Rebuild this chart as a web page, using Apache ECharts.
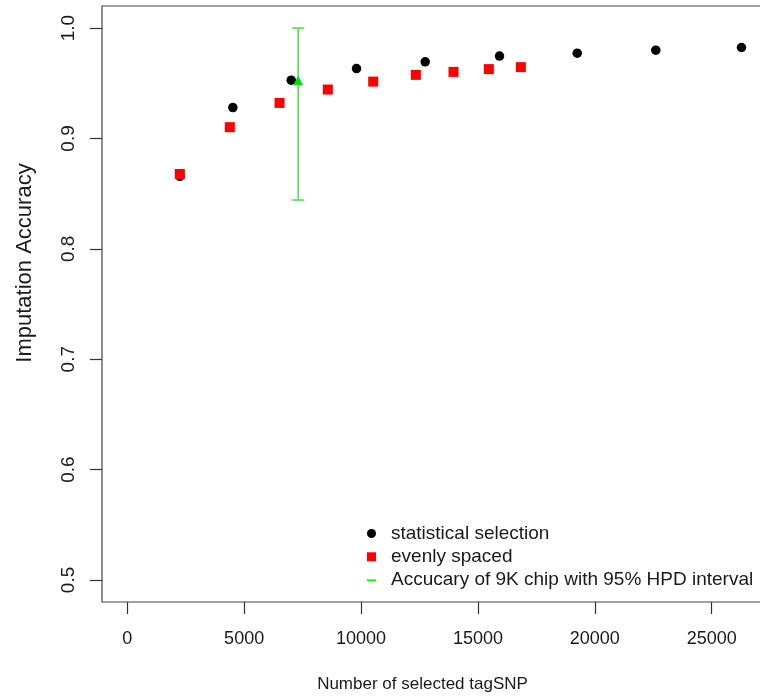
<!DOCTYPE html>
<html>
<head>
<meta charset="utf-8">
<script src="https://cdn.jsdelivr.net/npm/echarts@6/dist/echarts.min.js"></script>
<style>
html,body{margin:0;padding:0;background:#fff;}
#c{width:760px;height:696px;}
</style>
</head>
<body>
<div id="c"></div>
<script>
// Data
var statX = [2250, 4517, 7014, 9807, 12745, 15924, 19247, 22609, 26274];
var statY = [0.8657, 0.928, 0.9528, 0.9633, 0.9694, 0.9746, 0.9773, 0.980, 0.9824];
var evenX = [2250, 4388, 6514, 8580, 10521, 12345, 13956, 15467, 16836];
var evenY = [0.8678, 0.9102, 0.9322, 0.9443, 0.9515, 0.9576, 0.9603, 0.9628, 0.9646];
var chipX = [7313];
var chipY = [0.9526];
var chipLo = [0.8442];
var chipHi = [1.0];
var xTicks = [0, 5000, 10000, 15000, 20000, 25000];
var yTicks = [0.5, 0.6, 0.7, 0.8, 0.9, 1.0];
var names = ['statistical selection', 'evenly spaced', 'Accucary of 9K chip with 95% HPD interval'];

var FONT = 'Liberation Sans, Arial, sans-serif';
var TXT = '#1a1a1a';

function zip(a, b) { return a.map(function (v, i) { return [v, b[i]]; }); }

var chart = echarts.init(document.getElementById('c'), null, {renderer: 'canvas'});
chart.setOption({
  backgroundColor: '#ffffff',
  animation: false,
  grid: {
    left: 102, top: 6, right: -5, bottom: 94,
    outerBoundsMode: 'none', containLabel: false,
    show: true, borderColor: '#444', borderWidth: 1.2, backgroundColor: 'transparent'
  },
  legend: {
    orient: 'vertical',
    left: 362, top: 519,
    itemWidth: 9, itemHeight: 9, itemGap: 4.3,
    data: [
      {name: names[0], icon: 'circle'},
      {name: names[1], icon: 'rect'},
      {name: names[2], icon: 'path://M0,0L0.001,0L0.001,0.001ZM0,3.8L9,3.8L9,5.4L0,5.4ZM0,9L0.001,9L0.001,8.999Z',
       itemStyle: {color: '#00ee00'}}
    ],
    textStyle: {
      fontFamily: FONT, fontSize: 19, color: TXT,
      rich: {a: {fontFamily: FONT, fontSize: 19, color: TXT, padding: [0, 0, 0, 10]}}
    },
    formatter: function (n) { return '{a|' + n + '}'; }
  },
  xAxis: {
    type: 'value', min: -1080, max: 27280,
    name: 'Number of selected tagSNP', nameLocation: 'middle', nameGap: 74,
    nameTextStyle: {fontFamily: FONT, fontSize: 17, color: TXT, padding: [0, 22, 0, 0]},
    axisLine: {show: false, onZero: false},
    axisTick: {show: true, customValues: xTicks, length: 12, inside: false, lineStyle: {color: '#333', width: 1.2}},
    axisLabel: {customValues: xTicks, margin: 28, fontFamily: FONT, fontSize: 18, color: TXT,
      formatter: function (v) { return String(v); }},
    splitLine: {show: false}
  },
  yAxis: {
    type: 'value', min: 0.48, max: 1.02,
    name: 'Imputation Accuracy', nameLocation: 'middle', nameGap: 66,
    nameTextStyle: {fontFamily: FONT, fontSize: 22, color: TXT, padding: [0, 0, 0, 82]},
    axisLine: {show: false, onZero: false},
    axisTick: {show: true, customValues: yTicks, length: 12, inside: false, lineStyle: {color: '#333', width: 1.2}},
    axisLabel: {customValues: yTicks, margin: 24, rotate: 90, fontFamily: FONT, fontSize: 19, color: TXT,
      formatter: function (v) { return v.toFixed(1); }},
    splitLine: {show: false}
  },
  series: [
    {
      name: names[2], type: 'custom',
      data: chipX.map(function (x, i) { return [x, chipLo[i], chipHi[i]]; }),
      encode: {x: 0, y: [1, 2]},
      itemStyle: {color: '#00ee00'},
      renderItem: function (params, api) {
        var lo = api.coord([api.value(0), api.value(1)]);
        var hi = api.coord([api.value(0), api.value(2)]);
        var w = 6;
        var st = {stroke: '#55dd55', lineWidth: 1.6};
        return {type: 'group', children: [
          {type: 'line', shape: {x1: lo[0], y1: lo[1], x2: hi[0], y2: hi[1]}, style: st},
          {type: 'line', shape: {x1: lo[0] - w, y1: lo[1], x2: lo[0] + w, y2: lo[1]}, style: st},
          {type: 'line', shape: {x1: hi[0] - w, y1: hi[1], x2: hi[0] + w, y2: hi[1]}, style: st}
        ]};
      },
      z: 1
    },
    {
      name: names[0], type: 'scatter', data: zip(statX, statY),
      symbol: 'circle', symbolSize: 9.5,
      itemStyle: {color: '#000000', opacity: 1}, z: 2
    },
    {
      name: names[1], type: 'scatter', data: zip(evenX, evenY),
      symbol: 'rect', symbolSize: 10,
      itemStyle: {color: '#ff0000', opacity: 1}, z: 3
    },
    {
      name: 'chip point', type: 'scatter', data: zip(chipX, chipY),
      symbol: 'triangle', symbolSize: [10, 9.5],
      itemStyle: {color: '#00e000', opacity: 1}, z: 4
    }
  ]
});
</script>
</body>
</html>
